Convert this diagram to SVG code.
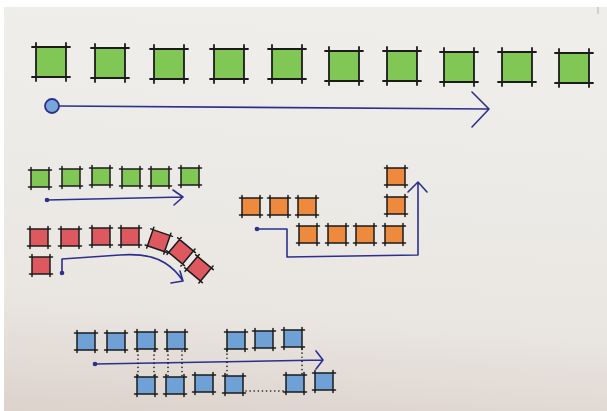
<svg xmlns="http://www.w3.org/2000/svg" xmlns:xlink="http://www.w3.org/1999/xlink" width="607" height="411" viewBox="0 0 607 411">
  <defs>
    <linearGradient id="paper" x1="0.1" y1="0" x2="0" y2="1">
      <stop offset="0" stop-color="#EFEEEA"/>
      <stop offset="0.7" stop-color="#EAE7E3"/>
      <stop offset="1" stop-color="#DDD2CC"/>
    </linearGradient>
    <g id="sqL">
      <rect x="0" y="0" width="30" height="30"/>
      <path class="edge" d="M-4 0H34M-4 30H34M0 -4V34M30 -4V34"/>
    </g>
    <g id="sqS">
      <rect x="0" y="0" width="18" height="17"/>
      <path class="edge thin" d="M-2.5 0H20.5M-2.5 17H20.5M0 -2.5V19.5M18 -2.5V19.5"/>
    </g>
  </defs>
  <style>
    .edge{fill:none;stroke:#1b1b1b;stroke-width:1.8;stroke-linecap:round}
    .thin{stroke-width:1.5}
    .g{fill:#80C755}
    .r{fill:#DE5860}
    .o{fill:#EE8A3E}
    .b{fill:#6FA0D6}
    .ink{fill:none;stroke:#2D2F8E;stroke-width:1.6;stroke-linecap:round;stroke-linejoin:round}
    .dot{fill:#2D2F8E}
    .dotted{fill:none;stroke:#1b1b1b;stroke-width:1.6;stroke-linecap:round;stroke-dasharray:0.1 4}
  </style>

  <rect width="607" height="411" fill="#FFFFFF"/>
  <rect x="4" y="7" width="603" height="404" fill="url(#paper)"/>
  <path d="M598 7V14" stroke="#B8B4B0" stroke-width="1"/>

  <!-- Row 1: big green squares -->
  <g id="big-green">
    <g id="G1"><use href="#sqL" class="g" x="36" y="47"/></g>
    <g id="G2"><use href="#sqL" class="g" x="95" y="48"/></g>
    <g id="G3"><use href="#sqL" class="g" x="154" y="49"/></g>
    <g id="G4"><use href="#sqL" class="g" x="214" y="49"/></g>
    <g id="G5"><use href="#sqL" class="g" x="272" y="49"/></g>
    <g id="G6"><use href="#sqL" class="g" x="329" y="51"/></g>
    <g id="G7"><use href="#sqL" class="g" x="387" y="51"/></g>
    <g id="G8"><use href="#sqL" class="g" x="444" y="52"/></g>
    <g id="G9"><use href="#sqL" class="g" x="502" y="52"/></g>
    <g id="G10"><use href="#sqL" class="g" x="559" y="53"/></g>
  </g>

  <!-- Small green row -->
  <g id="small-green">
    <g id="g1"><use href="#sqS" class="g" x="31" y="170"/></g>
    <g id="g2"><use href="#sqS" class="g" x="62" y="169"/></g>
    <g id="g3"><use href="#sqS" class="g" x="92" y="168"/></g>
    <g id="g4"><use href="#sqS" class="g" x="122" y="169"/></g>
    <g id="g5"><use href="#sqS" class="g" x="151" y="169"/></g>
    <g id="g6"><use href="#sqS" class="g" x="181" y="168"/></g>
  </g>

  <!-- Red squares -->
  <g id="red">
    <g id="r1"><use href="#sqS" class="r" x="30" y="229"/></g>
    <g id="r2"><use href="#sqS" class="r" x="61" y="229"/></g>
    <g id="r3"><use href="#sqS" class="r" x="92" y="228"/></g>
    <g id="r4"><use href="#sqS" class="r" x="121" y="228"/></g>
    <g id="r5" transform="translate(158.5 240) rotate(19) translate(-8.5 -8)"><use href="#sqS" class="r"/></g>
    <g id="r6" transform="translate(181 251) rotate(40) translate(-8.5 -8)"><use href="#sqS" class="r"/></g>
    <g id="r7" transform="translate(199 268) rotate(40) translate(-8.5 -8)"><use href="#sqS" class="r"/></g>
    <g id="r8"><use href="#sqS" class="r" x="32" y="257"/></g>
  </g>

  <!-- Orange squares -->
  <g id="orange">
    <g id="o1"><use href="#sqS" class="o" x="242" y="198"/></g>
    <g id="o2"><use href="#sqS" class="o" x="270" y="198"/></g>
    <g id="o3"><use href="#sqS" class="o" x="298" y="198"/></g>
    <g id="o4"><use href="#sqS" class="o" x="299" y="226"/></g>
    <g id="o5"><use href="#sqS" class="o" x="328" y="226"/></g>
    <g id="o6"><use href="#sqS" class="o" x="356" y="226"/></g>
    <g id="o7"><use href="#sqS" class="o" x="385" y="226"/></g>
    <g id="o8"><use href="#sqS" class="o" x="387" y="197"/></g>
    <g id="o9"><use href="#sqS" class="o" x="387" y="168"/></g>
  </g>

  <!-- Blue squares -->
  <g id="blue">
    <g id="b1"><use href="#sqS" class="b" x="77" y="333"/></g>
    <g id="b2"><use href="#sqS" class="b" x="107" y="333"/></g>
    <g id="b3"><use href="#sqS" class="b" x="137" y="332"/></g>
    <g id="b4"><use href="#sqS" class="b" x="167" y="332"/></g>
    <g id="b5"><use href="#sqS" class="b" x="227" y="332"/></g>
    <g id="b6"><use href="#sqS" class="b" x="255" y="331"/></g>
    <g id="b7"><use href="#sqS" class="b" x="284" y="330"/></g>
    <g id="b8"><use href="#sqS" class="b" x="137" y="377"/></g>
    <g id="b9"><use href="#sqS" class="b" x="166" y="377"/></g>
    <g id="b10"><use href="#sqS" class="b" x="195" y="375"/></g>
    <g id="b11"><use href="#sqS" class="b" x="225" y="376"/></g>
    <g id="b12"><use href="#sqS" class="b" x="286" y="375"/></g>
    <g id="b13"><use href="#sqS" class="b" x="315" y="373"/></g>
  </g>

  <!-- Connectors -->
  <g id="connectors">
    <path class="ink" d="M59 106L489 109M472 92L489 109L472 127"/>
    <circle cx="52" cy="106" r="7" fill="#79A6DA" stroke="#2D2F8E" stroke-width="1.8"/>
    <path class="ink" d="M47 200L183 197M173 190L183 197L174 205"/>
    <circle class="dot" cx="47" cy="200" r="2.3"/>
    <path class="ink" d="M62 273V259L120 255Q150 253 165 263Q176 270 183 281M180 271L183 281L171 283"/>
    <circle class="dot" cx="62" cy="273" r="2.3"/>
    <path class="ink" d="M257 229H287V257L418 255V182M408 192L418 182L427 192"/>
    <circle class="dot" cx="257" cy="229" r="2.3"/>
    <path class="ink" d="M95 364L323 360M316 351L323 360L316 369"/>
    <circle class="dot" cx="95" cy="364" r="2.3"/>
    <path class="dotted" d="M138 351V376M154 351V376M168 351V376M182 351V376M227 350V375M302 349V374M246 391H285"/>
  </g>
</svg>
